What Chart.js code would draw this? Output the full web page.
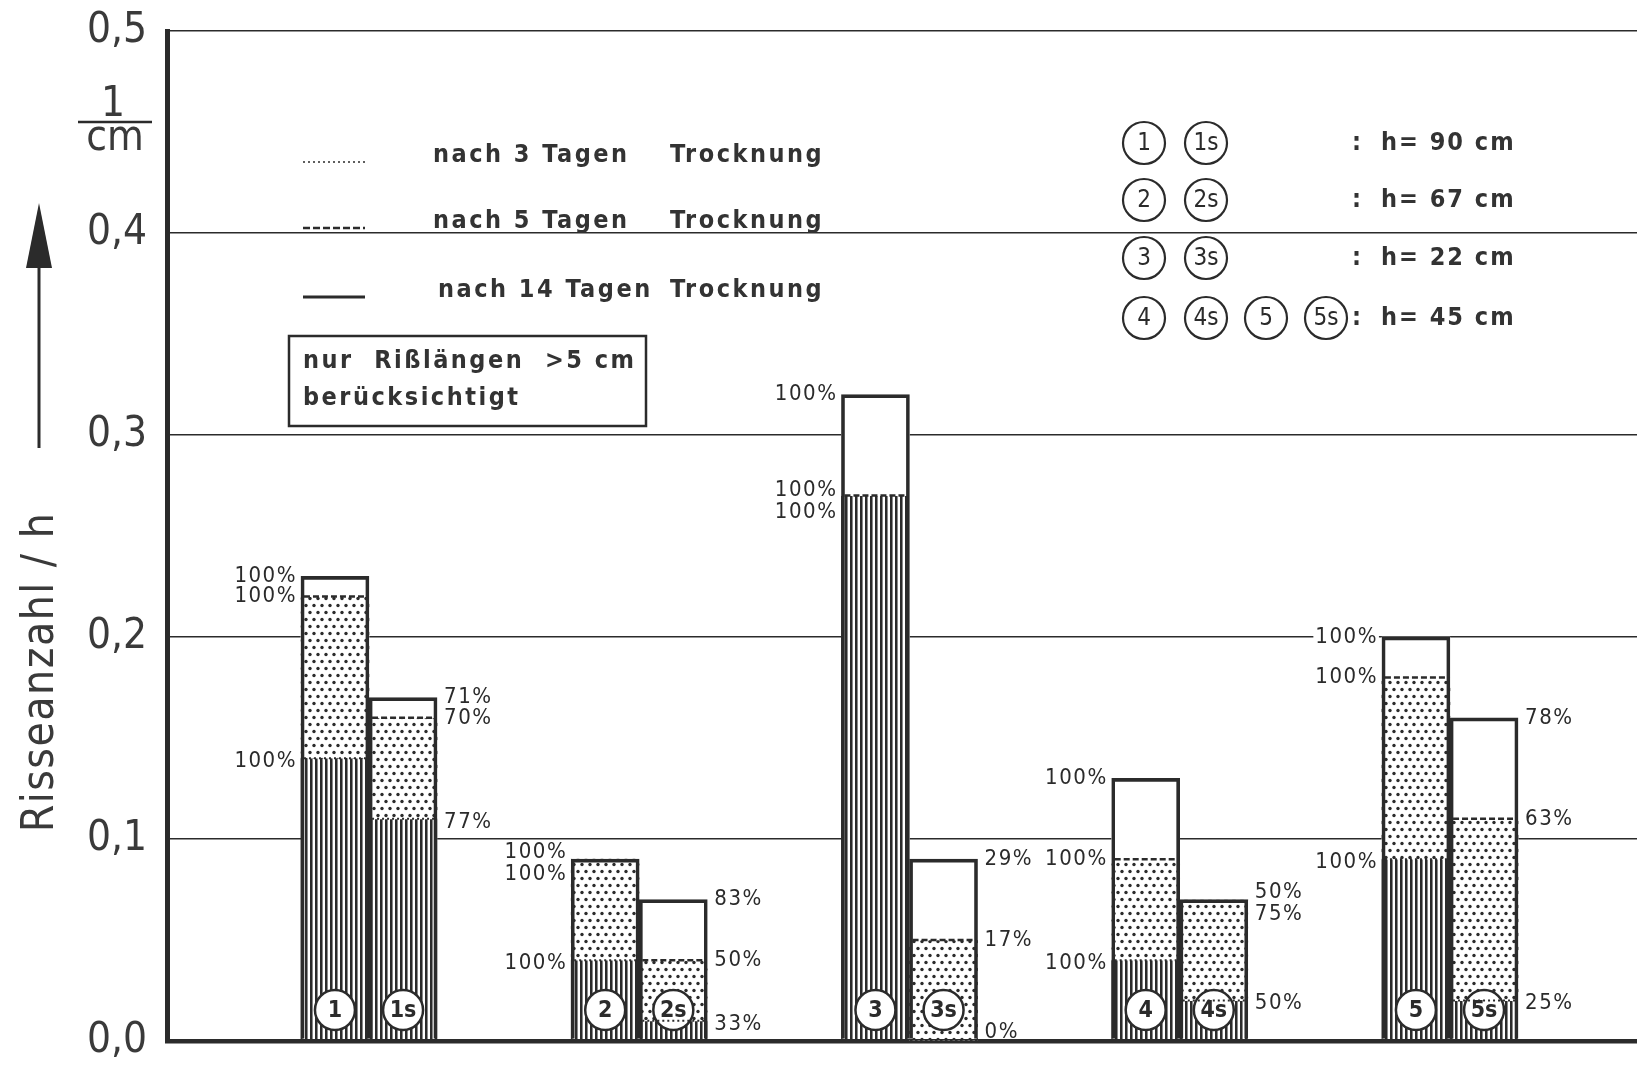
<!DOCTYPE html>
<html>
<head>
<meta charset="utf-8">
<title>Risseanzahl / h</title>
<script src="https://cdn.jsdelivr.net/npm/chart.js@4.4.1/dist/chart.umd.min.js"></script>
<style>
  html, body { margin: 0; padding: 0; background: #fff; }
  #wrap { width: 1637px; height: 1067px; }
</style>
</head>
<body>
<div id="wrap"><canvas id="myChart" width="1637" height="1067"></canvas></div>
<script>

// specimens, two bars per height group (plain and "s")
var bars = ['1', '1s', '2', '2s', '3', '3s', '4', '4s', '5', '5s'];
var groups = [1, 1, 2, 2, 3, 3, 4, 4, 5, 5];

// crack count per height [1/cm] after 3, 5 and 14 days of drying
var after3 = [0.14, 0.11, 0.04, 0.01, 0.27, 0.00, 0.04, 0.02, 0.09, 0.02];
var after5 = [0.22, 0.16, 0.09, 0.04, 0.27, 0.05, 0.09, 0.07, 0.18, 0.11];
var after14 = [0.23, 0.17, 0.09, 0.07, 0.32, 0.09, 0.13, 0.07, 0.20, 0.16];

// percent labels written next to each level
var pct3 = ['100%', '77%', '100%', '33%', '100%', '0%', '100%', '50%', '100%', '25%'];
var pct5 = ['100%', '70%', '100%', '50%', '100%', '17%', '100%', '75%', '100%', '63%'];
var pct14 = ['100%', '71%', '100%', '83%', '100%', '29%', '100%', '50%', '100%', '78%'];

var yTicks = [0, 0.1, 0.2, 0.3, 0.4, 0.5];
var legendDays = ['nach 3 Tagen', 'nach 5 Tagen', 'nach 14 Tagen'];
var keyRows = [['1', '1s'], ['2', '2s'], ['3', '3s'], ['4', '4s', '5', '5s']];
var keyHeights = ['90', '67', '22', '45'];

var ink = '#2b2b2b';
var fam = '"DejaVu Sans Condensed", "DejaVu Sans", sans-serif';
var barHalf = 0.126;   // half a bar width, in group units
var badgeLevel = 0.0153;

function xOf(i) {
	return groups[i] + (bars[i].indexOf('s') > 0 ? barHalf : -barHalf);
}
function isS(i) { return bars[i].indexOf('s') > 0; }

// fill patterns
function hatchPattern() {
	var c = document.createElement('canvas');
	c.width = 5; c.height = 8;
	var g = c.getContext('2d');
	g.fillStyle = '#fff'; g.fillRect(0, 0, 5, 8);
	g.fillStyle = ink; g.fillRect(0, 0, 2, 8);
	g.fillStyle = '#8a8a8a'; g.fillRect(2, 0, 1, 8);
	return g.createPattern(c, 'repeat');
}
function dotPattern() {
	var c = document.createElement('canvas');
	c.width = 8; c.height = 14;
	var g = c.getContext('2d');
	g.fillStyle = '#fff'; g.fillRect(0, 0, 8, 14);
	g.fillStyle = ink;
	g.beginPath(); g.arc(2, 3.5, 1.7, 0, Math.PI * 2); g.fill();
	g.beginPath(); g.arc(6, 10.5, 1.7, 0, Math.PI * 2); g.fill();
	return g.createPattern(c, 'repeat');
}

function span(lo, hi) {
	return bars.map(function (b, i) { return { x: xOf(i), y: [lo[i], hi[i]] }; });
}
var zeros = bars.map(function () { return 0; });

function tag(ctx, text, x, y, alignRight, plain) {
	ctx.font = '22px ' + fam;
	ctx.letterSpacing = '1.5px';
	var w = ctx.measureText(text).width;
	var left = alignRight ? x - w : x;
	if (!plain) {
		ctx.fillStyle = '#fff';
		ctx.fillRect(left - 2, y - 9, w + 3, 18);
	}
	ctx.fillStyle = ink;
	ctx.textAlign = 'left';
	ctx.textBaseline = 'middle';
	ctx.fillText(text, left, y);
}

function ring(ctx, x, y, r, text) {
	ctx.beginPath();
	ctx.arc(x, y, r, 0, Math.PI * 2);
	ctx.lineWidth = 2.2;
	ctx.strokeStyle = ink;
	ctx.stroke();
	ctx.fillStyle = ink;
	ctx.font = '24px ' + fam;
	ctx.letterSpacing = '0px';
	ctx.textAlign = 'center';
	ctx.textBaseline = 'middle';
	ctx.fillText(text, x, y + 1);
}

var decor = {
	id: 'decor',
	afterDatasetsDraw: function (chart) {
		var ctx = chart.ctx;
		var ys = chart.scales.y;
		var frame = chart.getDatasetMeta(0);
		var badges = chart.getDatasetMeta(4);
		var base = ys.getPixelForValue(0);
		ctx.save();
		frame.data.forEach(function (bar, i) {
			var l = bar.x - bar.width / 2 + 3;
			var r = bar.x + bar.width / 2 - 3;
			// dashed level after 5 days
			if (after5[i] < after14[i]) {
				ctx.setLineDash([6, 3]);
				ctx.lineWidth = 2.5;
				ctx.strokeStyle = ink;
				ctx.beginPath();
				ctx.moveTo(l, ys.getPixelForValue(after5[i]));
				ctx.lineTo(r, ys.getPixelForValue(after5[i]));
				ctx.stroke();
			}
			// dotted level after 3 days
			if (after3[i] > 0 && after3[i] < after5[i]) {
				ctx.setLineDash([2, 3]);
				ctx.lineWidth = 2;
				ctx.beginPath();
				ctx.moveTo(l, ys.getPixelForValue(after3[i]));
				ctx.lineTo(r, ys.getPixelForValue(after3[i]));
				ctx.stroke();
			}
			ctx.setLineDash([]);

			// percent labels, pulled apart when two levels coincide
			var y14 = ys.getPixelForValue(after14[i]);
			var y5 = ys.getPixelForValue(after5[i]);
			var y3 = Math.min(ys.getPixelForValue(after3[i]) + 3, base - 9);
			var mid;
			if (Math.abs(y5 - y14) < 16) { mid = (y5 + y14) / 2 + 4; y14 = mid - 11; y5 = mid + 11; }
			if (Math.abs(y3 - y5) < 16) { mid = (y3 + y5) / 2 + 4; y5 = mid - 11; y3 = mid + 11; }
			var right = isS(i);
			var tx = right ? bar.x + bar.width / 2 + 7 : bar.x - bar.width / 2 - 4;
			tag(ctx, pct14[i], tx, y14, !right);
			tag(ctx, pct5[i], tx, y5, !right);
			tag(ctx, pct3[i], tx, y3, !right, base - y3 < 14);

			// specimen number inside the badge
			var p = badges.data[i];
			ctx.fillStyle = ink;
			ctx.font = 'bold 23px ' + fam;
			ctx.letterSpacing = '0px';
			ctx.textAlign = 'center';
			ctx.textBaseline = 'middle';
			ctx.fillText(bars[i], p.x, p.y + 1);
		});
		ctx.restore();
	},
	afterDraw: function (chart) {
		var ctx = chart.ctx;
		ctx.save();
		ctx.fillStyle = ink;
		ctx.strokeStyle = ink;

		// y axis title with arrow
		ctx.save();
		ctx.translate(42, 672);
		ctx.rotate(-Math.PI / 2);
		ctx.font = '44px ' + fam;
		ctx.letterSpacing = '1.5px';
		ctx.textAlign = 'center';
		ctx.textBaseline = 'middle';
		ctx.fillStyle = '#3a3a3a';
		ctx.fillText('Risseanzahl / h', 0, 0);
		ctx.restore();

		ctx.lineWidth = 3;
		ctx.beginPath();
		ctx.moveTo(39, 448);
		ctx.lineTo(39, 262);
		ctx.stroke();
		ctx.beginPath();
		ctx.moveTo(39, 203);
		ctx.lineTo(26, 268);
		ctx.lineTo(52, 268);
		ctx.closePath();
		ctx.fill();

		// unit 1/cm
		ctx.letterSpacing = '0px';
		ctx.textAlign = 'center';
		ctx.textBaseline = 'alphabetic';
		ctx.font = '42px ' + fam;
		ctx.fillStyle = '#3a3a3a';
		ctx.fillText('1', 113, 116);
		ctx.fillText('cm', 115, 150);
		ctx.lineWidth = 2.5;
		ctx.beginPath();
		ctx.moveTo(78, 122);
		ctx.lineTo(152, 122);
		ctx.stroke();

		// drying legend
		var rowsY = [155, 221, 290];
		var dashes = [[2, 3], [7, 3], []];
		var widths = [1.5, 2.5, 3];
		ctx.fillStyle = '#333';
		for (var k = 0; k < 3; k++) {
			ctx.setLineDash(dashes[k]);
			ctx.lineWidth = widths[k];
			ctx.beginPath();
			ctx.moveTo(303, rowsY[k] + 7);
			ctx.lineTo(365, rowsY[k] + 7);
			ctx.stroke();
			ctx.setLineDash([]);
			ctx.font = 'bold 25px ' + fam;
			ctx.letterSpacing = '2.5px';
			ctx.textAlign = 'left';
			ctx.textBaseline = 'middle';
			ctx.fillText(legendDays[k], k === 2 ? 438 : 433, rowsY[k]);
			ctx.fillText('Trocknung', 670, rowsY[k]);
		}

		// note box
		ctx.fillStyle = '#fff';
		ctx.fillRect(289, 336, 357, 90);
		ctx.lineWidth = 2.5;
		ctx.strokeRect(289, 336, 357, 90);
		ctx.fillStyle = '#333';
		ctx.fillText('nur  Rißlängen  >5 cm', 303, 361);
		ctx.fillText('berücksichtigt', 303, 398);

		// height key
		var keyY = [143, 200, 258, 318];
		var keyX = [1144, 1206, 1266, 1326];
		for (var r = 0; r < keyRows.length; r++) {
			for (var c = 0; c < keyRows[r].length; c++) {
				ring(ctx, keyX[c], keyY[r], 21, keyRows[r][c]);
			}
			ctx.font = 'bold 25px ' + fam;
			ctx.letterSpacing = '2px';
			ctx.textAlign = 'left';
			ctx.textBaseline = 'middle';
			ctx.fillStyle = '#333';
			ctx.fillText(':', 1352, keyY[r]);
			ctx.fillText('h= ' + keyHeights[r] + ' cm', 1381, keyY[r]);
		}
		ctx.restore();
	}
};

var hatch = hatchPattern();
var dots = dotPattern();

var ctx = document.getElementById('myChart').getContext('2d');
var myChart = new Chart(ctx, {
	type: 'bar',
	data: {
		datasets: [{
			label: 'Rahmen',
			data: span(zeros, after14),
			backgroundColor: 'rgba(0,0,0,0)',
			borderColor: ink,
			borderWidth: 3,
			borderSkipped: 'bottom',
			order: 0
		}, {
			label: legendDays[2],
			data: span(after5, after14),
			backgroundColor: '#fff',
			borderWidth: 0,
			order: 1
		}, {
			label: legendDays[1],
			data: span(after3, after5),
			backgroundColor: dots,
			borderWidth: 0,
			order: 2
		}, {
			label: legendDays[0],
			data: span(zeros, after3),
			backgroundColor: hatch,
			borderWidth: 0,
			order: 3
		}, {
			type: 'scatter',
			label: 'Probe',
			data: bars.map(function (b, i) { return { x: xOf(i), y: badgeLevel }; }),
			pointRadius: 20,
			pointBackgroundColor: '#fff',
			pointBorderColor: ink,
			pointBorderWidth: 2.5,
			showLine: false,
			order: -1
		}]
	},
	options: {
		responsive: false,
		animation: false,
		events: [],
		devicePixelRatio: 1,
		datasets: {
			bar: { grouped: false, barThickness: 68 }
		},
		layout: { autoPadding: false, padding: { top: 31, bottom: 26, left: 0, right: 0 } },
		plugins: {
			legend: { display: false },
			tooltip: { enabled: false }
		},
		scales: {
			x: {
				type: 'linear',
				min: 0.2525,
				max: 5.692,
				offset: false,
				display: false
			},
			y: {
				min: 0,
				max: 0.5,
				afterBuildTicks: function (scale) {
					scale.ticks = yTicks.map(function (v) { return { value: v }; });
				},
				afterFit: function (scale) {
					scale.width = 167;
					// tick labels may stick out over the plot edges
					scale.paddingTop = 0;
					scale.paddingBottom = 0;
				},
				border: { display: true, color: ink, width: 5 },
				grid: {
					color: ink,
					drawTicks: false,
					lineWidth: function (c) { return c.tick && c.tick.value === 0 ? 4.5 : 1.6; }
				},
				ticks: {
					padding: 20,
					color: '#3a3a3a',
					font: { family: fam, size: 42 },
					callback: function (v) { return v.toFixed(1).replace('.', ','); }
				}
			}
		}
	},
	plugins: [decor]
});
</script>
</body>
</html>
